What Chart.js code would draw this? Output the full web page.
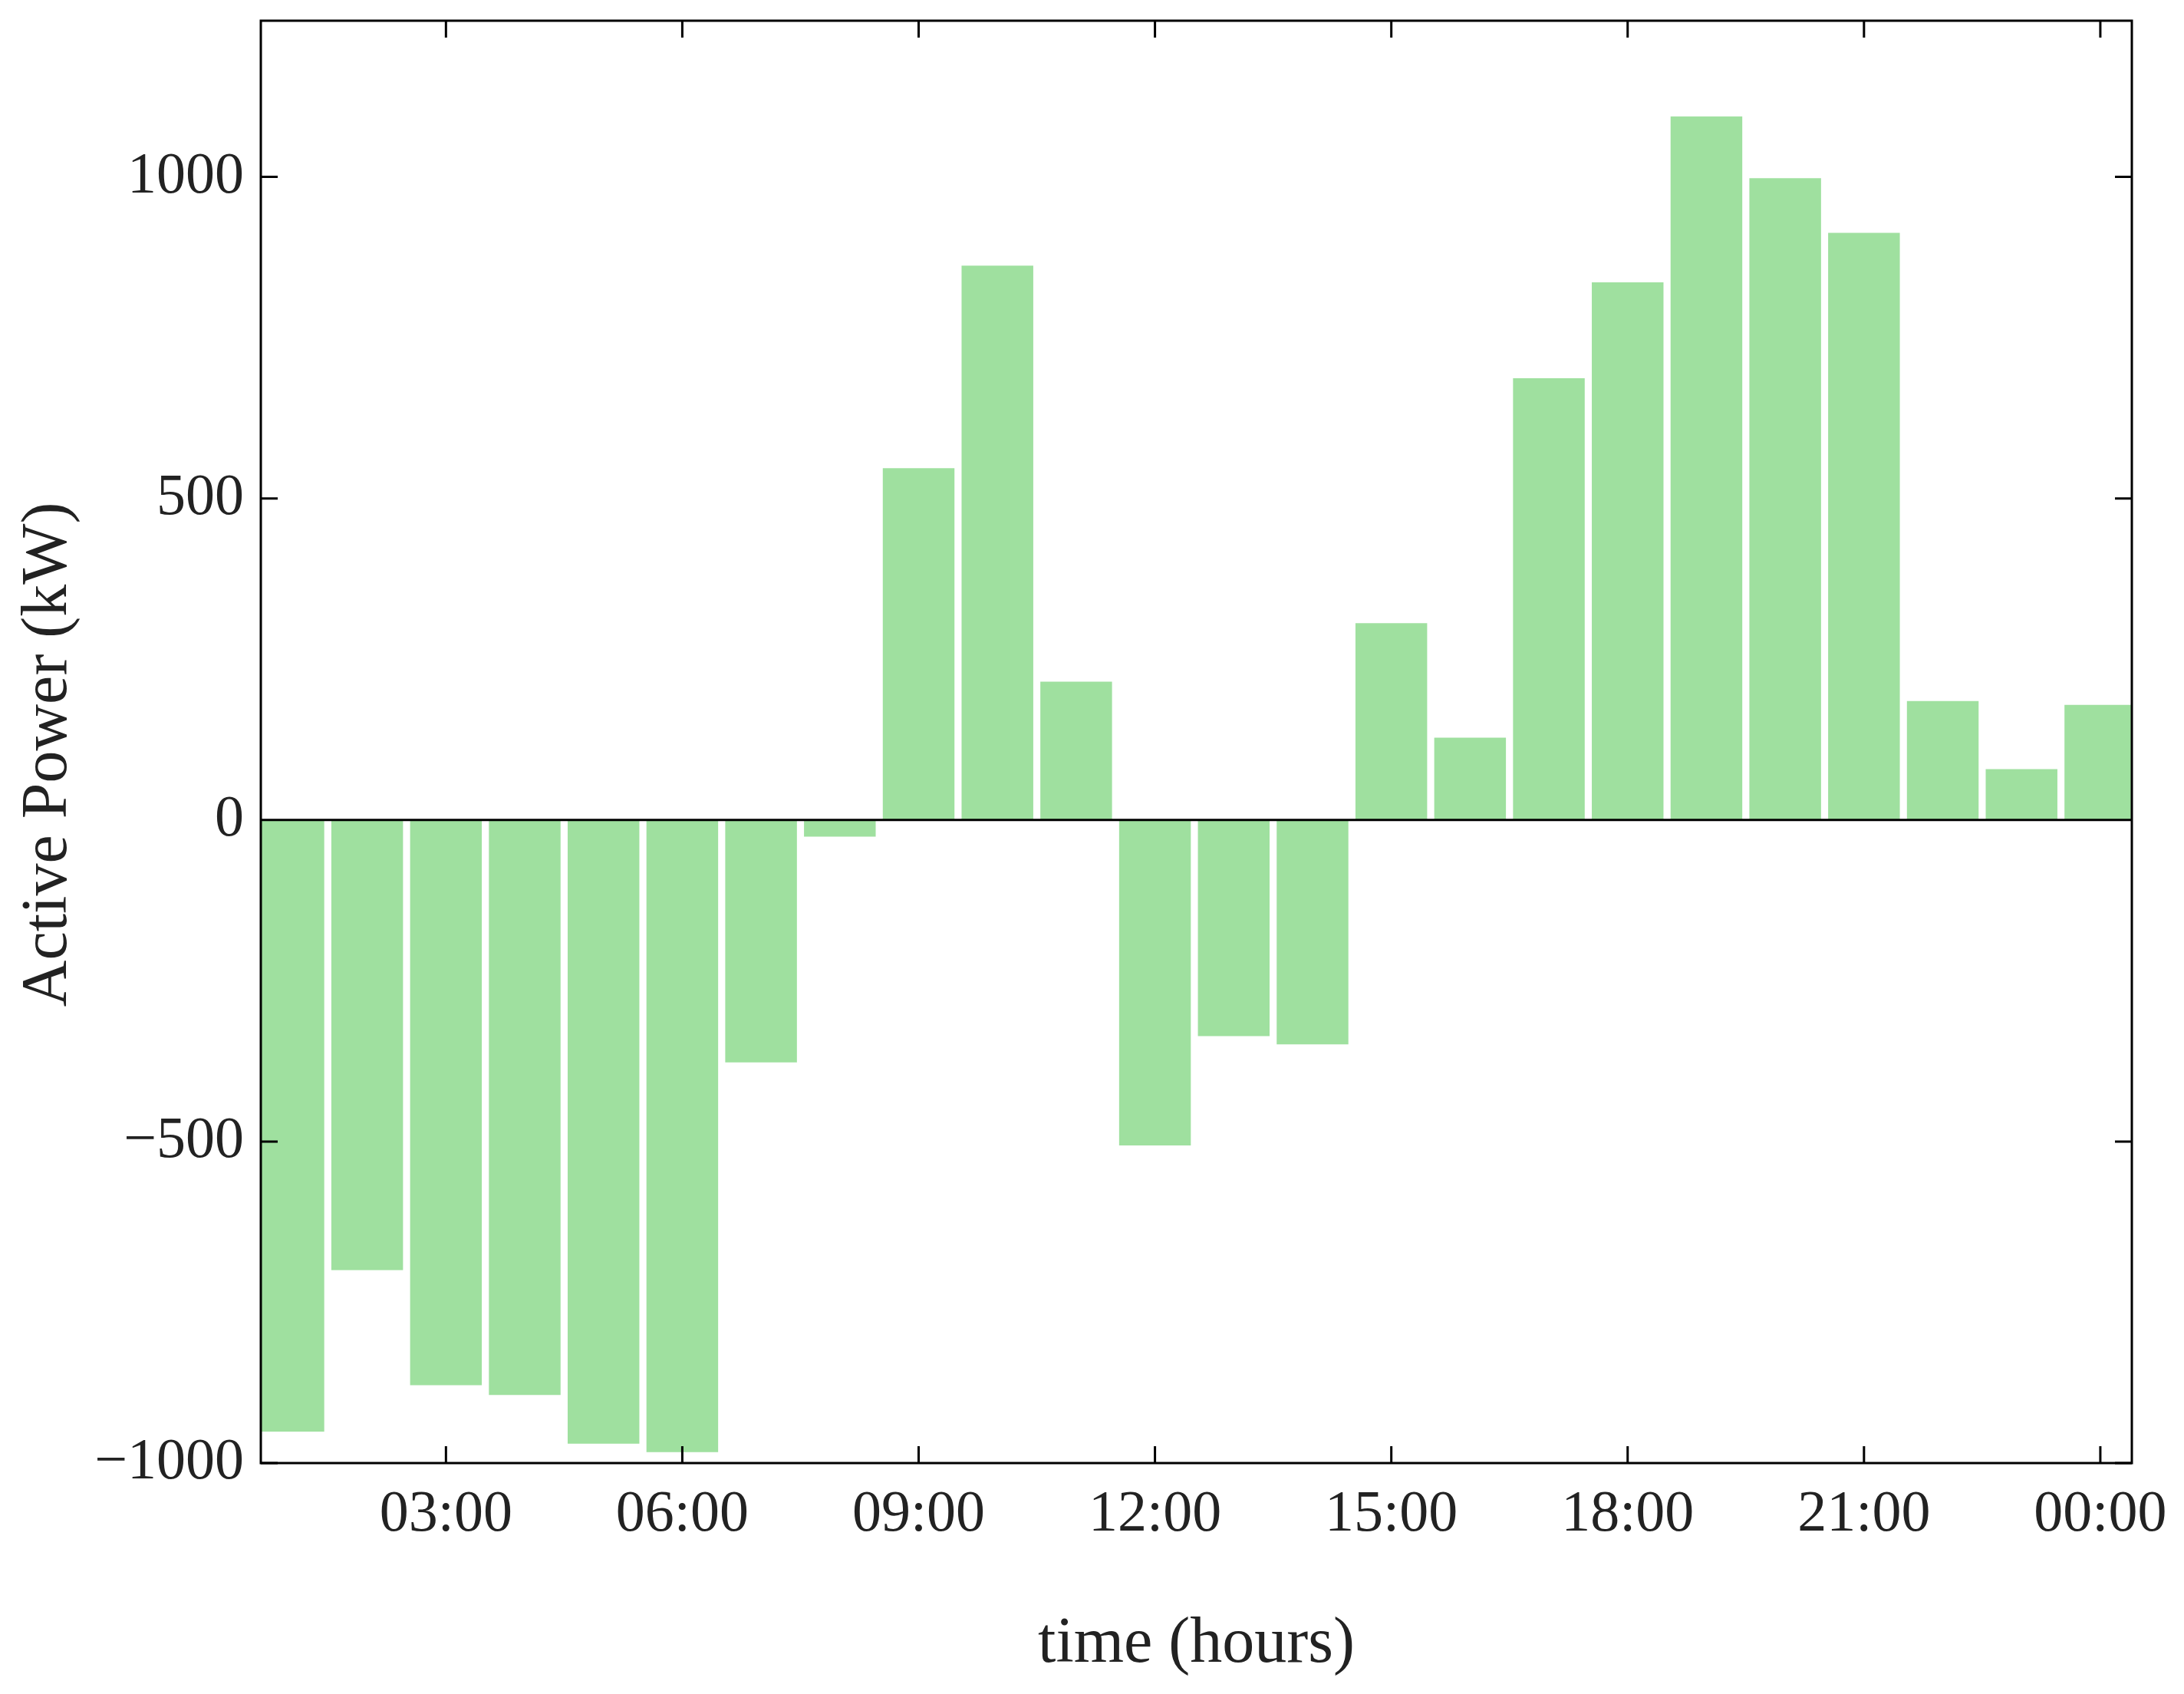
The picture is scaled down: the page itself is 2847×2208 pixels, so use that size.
<!DOCTYPE html>
<html><head><meta charset="utf-8">
<script src="https://cdn.jsdelivr.net/npm/chart.js@4"></script>
<style>html,body{margin:0;padding:0;background:#fff}</style>
</head><body>
<canvas id="c" width="2847" height="2208" style="width:2847px;height:2208px"></canvas>
<script>
const hours = [1,2,3,4,5,6,7,8,9,10,11,12,13,14,15,16,17,18,19,20,21,22,23,24];
const power = [-951,-700,-879,-894,-970,-983,-377,-26,547,862,215,-506,-336,-349,306,128,687,836,1094,998,913,185,79,179];
const xTicks = [3,6,9,12,15,18,21,24];
const yTicks = [-1000,-500,0,500,1000];
const fmtHour = v => String(v % 24).padStart(2,'0') + ':00';

const L=340,R=2779,T=27,B=1907;
const frame = {
  id:'frame',
  afterDatasetsDraw(ch){
    const c=ch.ctx, x=ch.scales.x, y=ch.scales.y;
    c.save(); c.strokeStyle='#000'; c.lineWidth=3;
    c.strokeRect(L,T,R-L,B-T);
    const tl=22;
    c.beginPath();
    yTicks.forEach(v=>{const p=y.getPixelForValue(v);c.moveTo(L,p);c.lineTo(L+tl,p);c.moveTo(R,p);c.lineTo(R-tl,p);});
    xTicks.forEach(v=>{const p=x.getPixelForValue(v);c.moveTo(p,B);c.lineTo(p,B-tl);c.moveTo(p,T);c.lineTo(p,T+tl);});
    const z=y.getPixelForValue(0); c.moveTo(L,z); c.lineTo(R,z);
    c.stroke(); c.restore();
  }
};
new Chart(document.getElementById('c'),{
  type:'bar',
  data:{datasets:[{data:hours.map((h,i)=>({x:h,y:power[i]})),backgroundColor:'#9fe09f',borderColor:'#ffffff',borderWidth:0,barPercentage:0.91,categoryPercentage:1}]},
  options:{
    responsive:false,animation:false,devicePixelRatio:1,
    layout:{padding:{left:10,right:2847-R,top:T,bottom:10}},
    plugins:{legend:{display:false},tooltip:{enabled:false}},
    scales:{
      x:{type:'linear',min:0.65,max:24.4,offset:false,
        afterBuildTicks:s=>{s.ticks=xTicks.map(v=>({value:v}));},
        afterFit:s=>{s.height=2208-B-10;},
        grid:{display:false},border:{display:false},
        ticks:{callback:v=>fmtHour(v),color:'#222',font:{family:'Liberation Serif',size:76},padding:14,maxRotation:0,autoSkip:false},
        title:{display:true,text:'time (hours)',color:'#222',font:{family:'Liberation Serif',size:84},padding:{top:10}}},
      y:{min:-1000,max:1204,
        afterBuildTicks:s=>{s.ticks=yTicks.map(v=>({value:v}));},
        afterFit:s=>{s.width=L-10;},
        grid:{display:false},border:{display:false},
        ticks:{callback:v=>v<0?'\u2212'+Math.abs(v):String(v),color:'#222',font:{family:'Liberation Serif',size:76},padding:14},
        title:{display:true,text:'Active Power (kW)',color:'#222',font:{family:'Liberation Serif',size:84},padding:{bottom:10}}}
    }
  },
  plugins:[frame]
});
</script>
</body></html>
